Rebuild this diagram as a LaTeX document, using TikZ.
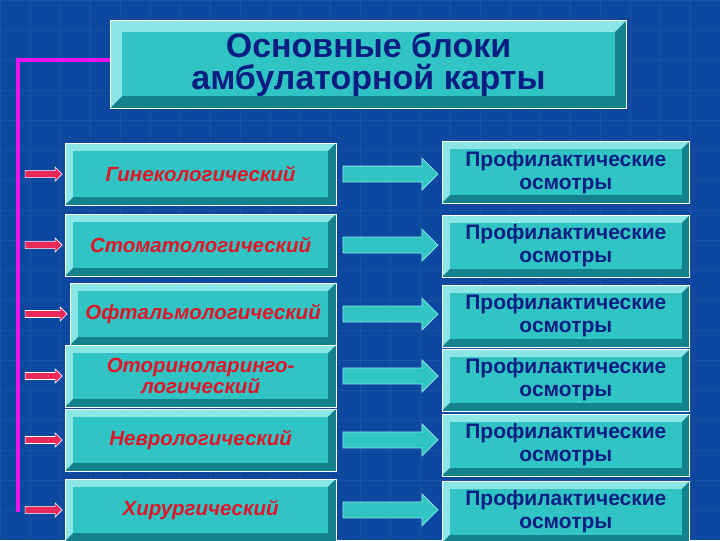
\documentclass[tikz,border=0pt]{standalone}
\usepackage{fontspec}
\setmainfont{Liberation Sans}
\definecolor{bg}{RGB}{12,72,160}
\definecolor{tealA}{RGB}{48,196,196}
\definecolor{tealL}{RGB}{140,230,230}
\definecolor{tealD}{RGB}{20,130,140}
\definecolor{navy}{RGB}{10,30,130}
\definecolor{redt}{RGB}{225,20,40}
\definecolor{mag}{RGB}{235,20,235}
\definecolor{pinkA}{RGB}{235,40,90}
\tikzset{
 ltxt/.style={font=\bfseries\itshape\fontsize{20.5}{21}\selectfont,text=redt,align=center},
 rtxt/.style={font=\bfseries\fontsize{21}{23}\selectfont,text=navy,align=center},
 ttxt/.style={font=\bfseries\fontsize{34}{32}\selectfont,text=navy,align=center},
 parr/.style={draw=white,fill=pinkA,line width=0.6pt},
 tarr/.style={draw=tealL,fill=tealA,line width=0.8pt},
}
\newcommand{\bev}[6]{% name x1 y1 x2 y2 bevel
 \fill[tealL] (#2,#3) rectangle (#4,#5);
 \fill[tealD] (#2,#5) -- (#4,#5) -- (#4,#3) -- (#4-#6,#3+#6) -- (#4-#6,#5-#6) -- (#2+#6,#5-#6) -- cycle;
 \draw[white,line width=0.8pt] (#2,#3) rectangle (#4,#5);
 \fill[tealA] (#2+#6,#3+#6) rectangle (#4-#6,#5-#6);
 \coordinate (#1) at ({(#2+#4)/2},{(#3+#5)/2});
 \coordinate (#1w) at (#2,{(#3+#5)/2});
 \coordinate (#1e) at (#4,{(#3+#5)/2});
}
\newcommand{\fatarrow}[4]{% style, start coord, end coord, half-height
 \path (#2) coordinate (fa1) (#3) coordinate (fa2);
 \draw[#1] let \p1=(fa1), \p2=(fa2) in
  (\x1,\y1-#4) -- (\x2-2*#4,\y1-#4) -- (\x2-2*#4,\y1-2*#4) -- (\x2,\y1) -- (\x2-2*#4,\y1+2*#4) -- (\x2-2*#4,\y1+#4) -- (\x1,\y1+#4) -- cycle;
}
\usetikzlibrary{calc}
\begin{document}
\begin{tikzpicture}[x=1pt,y=-1pt]
\fill[bg] (0,0) rectangle (720,540);
\foreach \i in {0,30,...,720} \draw[white,opacity=0.05] (\i,0) -- (\i,540);
\foreach \i in {0,30,...,540} \draw[white,opacity=0.05] (0,\i) -- (720,\i);
\useasboundingbox (0,0) rectangle (720,540);
% magenta bracket
\coordinate (mtop) at (18,60);
\coordinate (mbot) at (18,512);
\coordinate (mright) at (110,60);
\draw[mag,line width=4pt] (mright) -- (mtop) -- (mbot);
% title
\bev{T}{110}{20}{627}{108}{12}
\node[ttxt] (title) at (T) {Основные блоки\\амбулаторной карты};
\foreach \n/\ly/\ry/\ltext/\lx in {
 1/174/172/{Гинекологический}/65,
 2/245/246/{Стоматологический}/65,
 3/314/316/{Офтальмологический}/70,
 4/376/380/{Оториноларинго-\\логический}/65,
 5/440/445/{Неврологический}/65,
 6/510/512/{Хирургический}/65}{
 \bev{L\n}{\lx}{\ly-31}{336}{\ly+31}{8}
 \node[ltxt] (lt\n) at (L\n) {\ltext};
 \bev{R\n}{442}{\ry-31}{690}{\ry+31}{8}
 \node[rtxt] (rt\n) at (R\n) {Профилактические\\осмотры};
 \coordinate (ps\n) at (25,\ly);
 \coordinate (pe\n) at (\lx-3,\ly);
 \fatarrow{parr}{ps\n}{pe\n}{3.5}
 \coordinate (ts\n) at (343,\ly);
 \coordinate (te\n) at (438,\ly);
 \fatarrow{tarr}{ts\n}{te\n}{8}
}
\end{tikzpicture}
\end{document}
